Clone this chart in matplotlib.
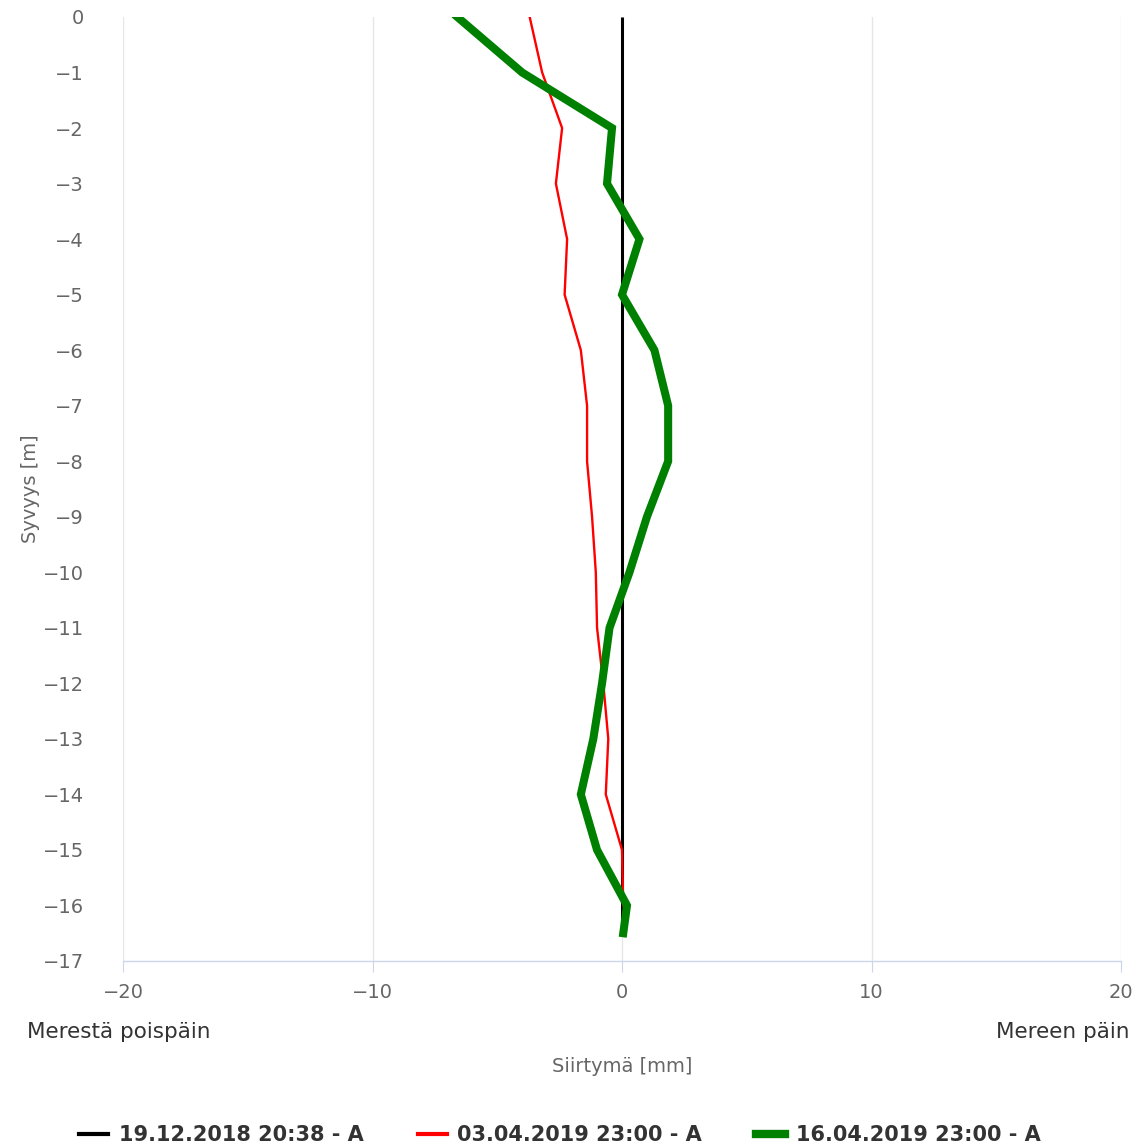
import matplotlib
matplotlib.use("Agg")
import matplotlib.pyplot as plt
from matplotlib.lines import Line2D

depth_black = [0, -16.5]
disp_black = [0, 0]

depth_red = [0, -1, -2, -3, -4, -5, -6, -7, -8, -9, -10, -11, -12, -13, -14, -15, -16]
disp_red = [-3.7, -3.2, -2.4, -2.65, -2.2, -2.3, -1.65, -1.4, -1.4, -1.2, -1.05, -1.0, -0.75, -0.55, -0.65, 0.0, 0.05]

depth_green = [0, -1, -2, -3, -4, -5, -6, -7, -8, -9, -10, -11, -12, -13, -14, -15, -16, -16.5]
disp_green = [-6.6, -4.0, -0.4, -0.6, 0.7, 0.0, 1.3, 1.85, 1.85, 1.0, 0.3, -0.5, -0.8, -1.15, -1.65, -1.0, 0.2, 0.05]

labels = ["19.12.2018 20:38 - A", "03.04.2019 23:00 - A", "16.04.2019 23:00 - A"]
colors = ["#000000", "#ff0000", "#008000"]
xticks = [-20, -10, 0, 10, 20]
yticks = list(range(0, -18, -1))

plt.rcParams['font.family'] = ['DejaVu Sans']
fig = plt.figure(figsize=(11.41, 11.48), dpi=100)
ax = fig.add_axes([123/1141, 1-961/1148, (1121-123)/1141, (961-17)/1148])

ax.plot(disp_black, depth_black, color=colors[0], lw=2.2, solid_capstyle='butt', zorder=3)
ax.plot(disp_red, depth_red, color=colors[1], lw=1.7, zorder=4)
ax.plot(disp_green, depth_green, color=colors[2], lw=5.8, solid_joinstyle='miter', zorder=5)

ax.set_xlim(-20, 20)
ax.set_ylim(-17, 0)
ax.set_xticks(xticks)
ax.set_yticks(yticks)
ax.set_xticklabels([("\u2212%d" % -v) if v < 0 else str(v) for v in xticks])
ax.set_yticklabels([("\u2212%d" % -v) if v < 0 else str(v) for v in yticks])
ax.grid(axis='x', color='#e6e6e6', lw=1)
ax.set_axisbelow(True)
for s in ['top', 'right', 'left']:
    ax.spines[s].set_visible(False)
ax.spines['bottom'].set_color('#ccd6eb')
ax.spines['bottom'].set_linewidth(1)
ax.tick_params(axis='x', colors='#666666', labelsize=14, length=8, color='#ccd6eb', pad=8)
ax.tick_params(axis='y', colors='#666666', labelsize=14, length=0, pad=28)

ax.set_ylabel("Syvyys [m]", color='#666666', fontsize=14, labelpad=2)
fig.text(622/1141, 1-1067/1148, "Siirtymä [mm]", color='#666666', fontsize=14, ha='center', va='center')
fig.text(27/1141, 1-1032/1148, "Merestä poispäin", color='#333333', fontsize=15.5, ha='left', va='center')
fig.text(1129/1141, 1-1032/1148, "Mereen päin", color='#333333', fontsize=15.5, ha='right', va='center')

handles = [Line2D([], [], color=colors[0], lw=3),
           Line2D([], [], color=colors[1], lw=3),
           Line2D([], [], color=colors[2], lw=6)]
leg = fig.legend(handles, labels, loc='center', bbox_to_anchor=(560/1141, 1-1135/1148), ncol=3,
                 frameon=False, handlelength=1.4, handletextpad=0.5, columnspacing=2.6,
                 prop={'size': 15, 'weight': 'bold'})
for t in leg.get_texts():
    t.set_color('#333333')

fig.savefig("out.png", dpi=100)
